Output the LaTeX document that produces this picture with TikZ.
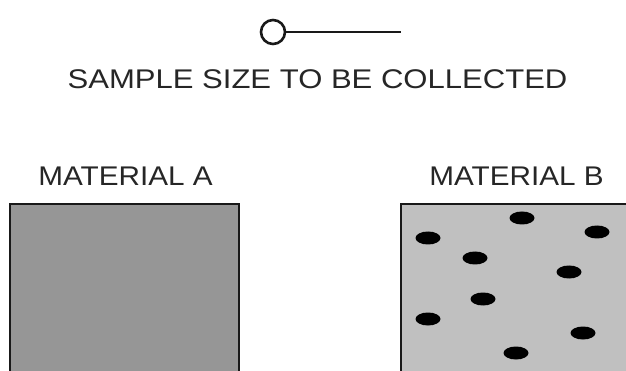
\documentclass[tikz,border=0pt]{standalone}
\usepackage{fontspec}
\setmainfont{Liberation Sans}
\begin{document}
\begin{tikzpicture}[x=1pt,y=-1pt,
  lbl/.style={inner sep=0pt, anchor=base, text=black!85, font=\fontsize{27}{30}\selectfont},
  matbox/.style={draw=black!90, line width=2.4pt},
  dot/.style={fill=black, draw=none}]
\useasboundingbox (0,0) rectangle (626,371);
\begin{scope}
\clip (0,0) rectangle (626,371);
% legend
\node[draw=black!90, line width=2.6pt, circle, minimum size=24pt, inner sep=0pt] (c) at (273,32) {};
\coordinate (lend) at (401,32);
\draw[black!90, line width=2pt] (c.east) -- (lend);
\node[lbl] (t) at (317.5,89) {\scalebox{1.15}[1]{SAMPLE SIZE TO BE COLLECTED}};
% materials
\node[lbl] (ta) at (125.5,186) {\scalebox{1.1}[1]{MATERIAL A}};
\node[lbl] (tb) at (516.5,186) {\scalebox{1.1}[1]{MATERIAL B}};
\draw[matbox, fill={rgb,255:red,150;green,150;blue,150}] (10,204) rectangle (239,380);
\draw[matbox, fill={rgb,255:red,192;green,192;blue,192}] (401,204) rectangle (640,380);
\foreach \p in {(522,218),(428,238),(597,232),(475,258),(569,272),(483,299),(428,319),(583,333),(516,353)}
  \fill[dot] \p ellipse [x radius=12.5, y radius=6.5];
\end{scope}
\end{tikzpicture}
\end{document}
